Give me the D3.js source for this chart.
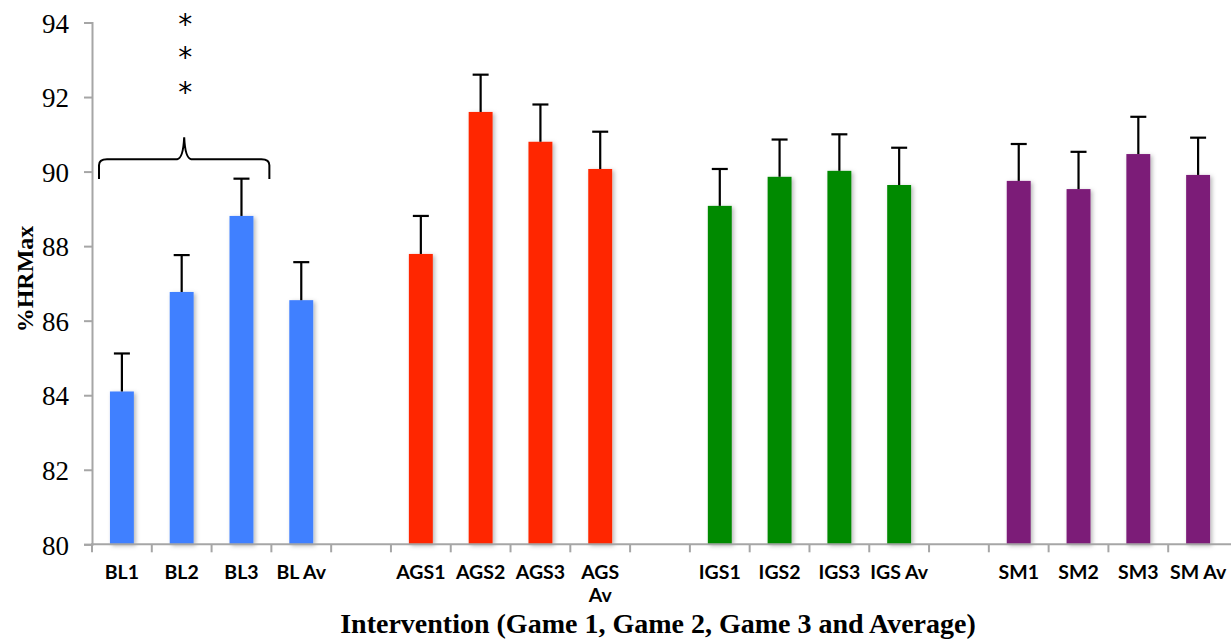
<!DOCTYPE html>
<html>
<head>
<meta charset="utf-8">
<script src="https://cdn.jsdelivr.net/npm/d3@7"></script>
<style>
  html, body { margin: 0; padding: 0; background: #ffffff; }
  svg { display: block; }
</style>
</head>
<body>
<svg id="chart" width="1231" height="640"></svg>
<script>
// Mean %HRMax per game and average, with standard error, for each condition
const groups = ["BL", "AGS", "IGS", "SM"];
const groupColors = ["#4080FF", "#FF2600", "#008A00", "#7B1A78"];
const categories = [
  "BL1", "BL2", "BL3", "BL Av",
  "AGS1", "AGS2", "AGS3", "AGS Av",
  "IGS1", "IGS2", "IGS3", "IGS Av",
  "SM1", "SM2", "SM3", "SM Av"
];
const categoryGroup = [
  "BL", "BL", "BL", "BL",
  "AGS", "AGS", "AGS", "AGS",
  "IGS", "IGS", "IGS", "IGS",
  "SM", "SM", "SM", "SM"
];
const means = [
  84.10, 86.77, 88.81, 86.55,
  87.79, 91.60, 90.80, 90.07,
  89.08, 89.86, 90.02, 89.64,
  89.75, 89.53, 90.47, 89.91
];
const errors = [
  1.02, 0.99, 1.00, 1.02,
  1.02, 1.00, 1.00, 1.00,
  0.99, 1.00, 0.98, 1.00,
  0.99, 1.00, 1.00, 1.00
];
const yTicks = [80, 82, 84, 86, 88, 90, 92, 94];
const yTitle = "%HRMax";
const xTitle = "Intervention (Game 1, Game 2, Game 3 and Average)";
const significance = ["*", "*", "*"];

const svg = d3.select("#chart");
const plotLeft = 92, plotRight = 1228, plotTop = 22.5, plotBottom = 544.3;

// Slots: four bars per group, with an empty slot between groups
const slots = [];
groups.forEach((g, gi) => {
  categories.forEach((c, i) => { if (categoryGroup[i] === g) slots.push(c); });
  if (gi < groups.length - 1) slots.push("__gap" + gi);
});

const x = d3.scaleBand().domain(slots).range([plotLeft, plotRight]).paddingInner(0).paddingOuter(0);
const y = d3.scaleLinear().domain([80, 94]).range([plotBottom, plotTop]);
const color = d3.scaleOrdinal().domain(groups).range(groupColors);
const step = x.step();
const barW = step * 0.4;

// soft shadow under bars
const defs = svg.append("defs");
const f = defs.append("filter").attr("id", "barShadow")
  .attr("x", "-30%").attr("y", "-10%").attr("width", "160%").attr("height", "130%");
f.append("feDropShadow").attr("dx", 2).attr("dy", 1.5).attr("stdDeviation", 2)
  .attr("flood-color", "#000").attr("flood-opacity", 0.28);

const data = categories.map((c, i) => ({ c, g: categoryGroup[i], m: means[i], e: errors[i] }));

// bars
svg.append("g").selectAll("rect").data(data).join("rect")
  .attr("x", d => x(d.c) + (step - barW) / 2)
  .attr("width", barW)
  .attr("y", d => y(d.m))
  .attr("height", d => y(80) - y(d.m))
  .attr("fill", d => color(d.g))
  .attr("filter", "url(#barShadow)");

// error bars (upper only)
const eb = svg.append("g").attr("stroke", "#000").attr("stroke-width", 2.2).attr("fill", "none");
eb.selectAll("line.v").data(data).join("line").attr("class", "v")
  .attr("x1", d => x(d.c) + step / 2).attr("x2", d => x(d.c) + step / 2)
  .attr("y1", d => y(d.m)).attr("y2", d => y(d.m + d.e));
eb.selectAll("line.cap").data(data).join("line").attr("class", "cap")
  .attr("x1", d => x(d.c) + step / 2 - 8).attr("x2", d => x(d.c) + step / 2 + 8)
  .attr("y1", d => y(d.m + d.e)).attr("y2", d => y(d.m + d.e));

// y axis
const yAxis = svg.append("g").attr("transform", `translate(${plotLeft},0)`)
  .call(d3.axisLeft(y).tickValues(yTicks).tickSize(8).tickPadding(15).tickFormat(d3.format("d")));
yAxis.select(".domain").attr("stroke", "#A6A6A6").attr("stroke-width", 2);
yAxis.selectAll(".tick line").attr("stroke", "#A6A6A6").attr("stroke-width", 2);
yAxis.selectAll(".tick text")
  .attr("font-family", "'Liberation Serif', serif").attr("font-size", 27).attr("fill", "#000")
  .attr("dy", "0.36em");

// x axis with ticks at slot boundaries
const xg = svg.append("g");
xg.append("line").attr("x1", plotLeft - 1).attr("x2", plotRight + 3).attr("y1", plotBottom).attr("y2", plotBottom)
  .attr("stroke", "#A6A6A6").attr("stroke-width", 2);
xg.selectAll("line.t").data(slots).join("line").attr("class", "t")
  .attr("x1", d => x(d)).attr("x2", d => x(d))
  .attr("y1", plotBottom).attr("y2", plotBottom + 8)
  .attr("stroke", "#A6A6A6").attr("stroke-width", 2);

// category labels, wrapped onto two lines when wider than the slot
const labels = xg.selectAll("text").data(data).join("text")
  .attr("x", d => x(d.c) + step / 2)
  .attr("y", 579)
  .attr("text-anchor", "middle")
  .attr("font-family", "Lato, sans-serif").attr("font-weight", 700).attr("font-size", 19.5)
  .attr("fill", "#000")
  .text(d => d.c);
labels.each(function(d) {
  const t = d3.select(this);
  if (this.getComputedTextLength() > step && d.c.includes(" ")) {
    const parts = d.c.split(" ");
    t.text(null);
    parts.forEach((p, i) => {
      t.append("tspan").attr("x", x(d.c) + step / 2).attr("dy", i === 0 ? 0 : 23).text(p);
    });
  }
});

// axis titles
svg.append("text")
  .attr("transform", `translate(33,279) rotate(-90)`)
  .attr("text-anchor", "middle")
  .attr("font-family", "'Liberation Serif', serif").attr("font-weight", 700).attr("font-size", 24)
  .attr("fill", "#000")
  .text(yTitle);

svg.append("text")
  .attr("x", 658).attr("y", 633)
  .attr("text-anchor", "middle")
  .attr("font-family", "'Liberation Serif', serif").attr("font-weight", 700).attr("font-size", 28)
  .attr("fill", "#000")
  .text(xTitle);

// brace grouping BL1–BL3 with significance marks
const bL = x("BL1") + 7, bR = x("BL3") + step - 2, bC = (bL + bR) / 2;
const yHook = y(89.8), yLine = y(90.33), yTip = y(90.92);
const brace = d3.path();
brace.moveTo(bL, yHook);
brace.lineTo(bL, yLine + 6);
brace.quadraticCurveTo(bL, yLine, bL + 8, yLine);
brace.lineTo(bC - 7, yLine);
brace.quadraticCurveTo(bC - 1, yLine - 1, bC, yTip);
brace.quadraticCurveTo(bC + 1, yLine - 1, bC + 7, yLine);
brace.lineTo(bR - 8, yLine);
brace.quadraticCurveTo(bR, yLine, bR, yLine + 6);
brace.lineTo(bR, yHook);
svg.append("path").attr("d", brace.toString())
  .attr("fill", "none").attr("stroke", "#000").attr("stroke-width", 2);

const starSize = 28;
const starLevels = [94.07, 93.18, 92.24];
svg.append("g").selectAll("text").data(significance).join("text")
  .attr("x", bC + 1)
  .attr("y", (d, i) => y(starLevels[i]) + 0.5 * starSize)
  .attr("text-anchor", "middle")
  .attr("font-family", "'DejaVu Sans', sans-serif").attr("font-size", starSize)
  .attr("fill", "#000")
  .text(d => d);
</script>
</body>
</html>
